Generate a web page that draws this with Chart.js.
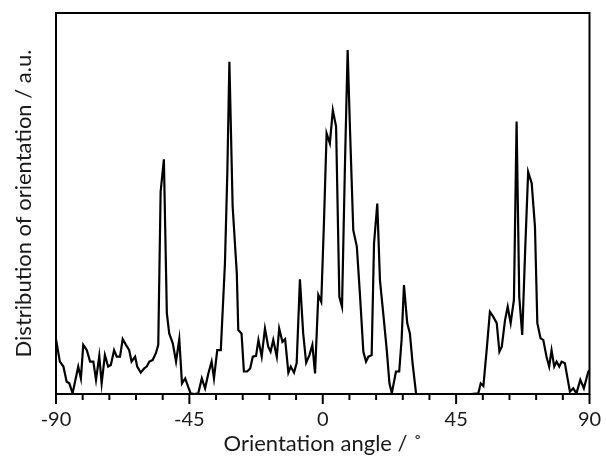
<!DOCTYPE html>
<html>
<head>
<meta charset="utf-8">
<script src="https://cdn.jsdelivr.net/npm/chart.js@4.4.1/dist/chart.umd.min.js"></script>
<style>
  html, body { margin: 0; padding: 0; background: #ffffff; }
  #wrap { width: 606px; height: 459px; }
</style>
</head>
<body>
<div id="wrap"><canvas id="chart" width="606" height="459"></canvas></div>
<script>
// Orientation angle (degrees) of each sample
const angles = [
  -90, -88.7, -87.5, -86.4, -85.5, -84.4, -82.5, -81.6, -80.8, -79.6,
  -78.5, -77.4, -76.5, -75.4, -74.6, -73.5, -72.4, -71.5, -70.4, -69.5,
  -68.4, -67.5, -66.4, -65.3, -64.5, -63.3, -62.6, -61.4, -60.3, -59.4,
  -58.5, -57.4, -56.3, -55.5, -54.7, -53.6, -52.6, -51.8, -50.6, -49.5,
  -48.4, -47.5, -46.4, -45.4, -44.6, -43.3, -42.0, -40.8, -39.7, -38.6,
  -37.5, -36.7, -35.6, -34.4, -33.0, -32.2, -31.5, -30.4, -29.0, -28.5,
  -27.4, -26.6, -25.5, -24.5, -23.6, -22.5, -21.7, -20.6, -19.5, -18.4,
  -17.6, -16.7, -15.5, -14.7, -13.6, -12.7, -11.6, -10.8, -9.7, -8.8,
  -7.7, -6.6, -5.6, -4.5, -3.5, -2.6, -1.5, -0.5, 0.4, 1.3,
  2.4, 3.4, 4.5, 5.6, 6.5, 7.5, 8.4, 9.2, 10.3, 11.5,
  12.6, 13.7, 14.6, 15.4, 16.5, 17.3, 18.4, 19.3, 20.4, 21.6,
  22.5, 23.3, 24.7, 25.8, 26.6, 27.4, 28.5, 29.4, 30.3, 31.5,
  35, 40, 45, 50, 52.5, 53.3, 54.2, 55.3, 56.4, 57.5,
  58.7, 59.6, 60.4, 61.5, 62.4, 63.4, 64.5, 65.4, 66.3, 67.3,
  68.3, 69.3, 70.5, 71.6, 72.4, 73.5, 74.4, 75.5, 76.4, 77.2,
  78.1, 78.9, 79.8, 80.6, 81.7, 82.5, 83.4, 84.5, 85.6, 86.9,
  88.1, 89.6, 90
];

// Distribution of orientation (arbitrary units)
const distribution = [
  14.4, 8.5, 7.2, 3.2, 2.8, 0.2, 7.2, 4.1, 12.9, 11.5,
  8.5, 8.5, 3.7, 10.0, 2.8, 10.2, 7.2, 7.6, 11.5, 9.8,
  9.8, 14.4, 12.9, 11.5, 8.5, 9.8, 7.2, 5.6, 6.7, 7.2,
  8.5, 8.9, 10.7, 12.9, 53.1, 61.6, 21.2, 15.9, 13.3, 8.5,
  14.4, 2.8, 4.1, 1.9, 0.2, 0.0, 0.2, 4.1, 1.5, 5.4,
  8.5, 4.1, 11.5, 11.5, 34.3, 57.9, 87.2, 49.2, 31.7, 16.8,
  15.9, 5.9, 5.9, 6.7, 9.8, 10.0, 14.2, 9.8, 17.2, 12.4,
  11.1, 14.2, 9.8, 17.2, 13.7, 14.4, 5.6, 7.2, 5.6, 8.1,
  30.1, 15.9, 8.2, 10.2, 12.9, 5.4, 26.0, 24.2, 44.8, 68.4,
  65.8, 74.5, 70.2, 25.5, 22.9, 60.5, 90.3, 69.3, 43.0, 38.7,
  25.5, 11.1, 8.5, 9.8, 10.2, 39.5, 50.0, 29.9, 21.2, 11.5,
  2.8, 0.2, 5.9, 5.9, 14.2, 28.6, 18.6, 15.9, 8.1, 0.0,
  0.0, 0.0, 0.0, 0.0, 0.2, 2.8, 2.1, 11.5, 21.6, 20.3,
  18.6, 11.1, 12.4, 19.4, 22.9, 18.6, 24.7, 71.5, 25.5, 15.5,
  37.8, 58.3, 55.3, 43.9, 18.6, 14.6, 14.2, 9.8, 7.2, 11.5,
  7.2, 8.5, 7.2, 8.5, 8.1, 4.5, 0.6, 1.5, 0.2, 3.7,
  1.5, 5.9, 6.2
];

// Axis settings
const xMin = -90, xMax = 90, tickStep = 9, labelStep = 45;
const xTitle = 'Orientation angle / \u02DA';
const yTitle = 'Distribution of orientation / a.u.';

const points = angles.map((a, i) => ({ x: a, y: distribution[i] }));

const FONT = 'Lato, "Open Sans", sans-serif';

// Frame around the plot and the bottom tick marks (long at labelled angles)
const framePlugin = {
  id: 'frameAndTicks',
  afterDraw(chart) {
    const { ctx, chartArea, scales } = chart;
    const { left, right, top, bottom } = chartArea;
    ctx.save();
    ctx.strokeStyle = '#000';
    ctx.lineWidth = 2;
    ctx.strokeRect(left, top, right - left, bottom - top);
    scales.x.ticks.forEach(t => {
      const px = scales.x.getPixelForValue(t.value);
      const len = (Math.abs(t.value) % labelStep === 0) ? 10 : 6;
      ctx.beginPath();
      ctx.moveTo(px, bottom);
      ctx.lineTo(px, bottom + len);
      ctx.stroke();
    });
    ctx.restore();
  }
};

new Chart(document.getElementById('chart'), {
  type: 'line',
  data: {
    datasets: [{
      data: points,
      borderColor: '#000',
      borderWidth: 2.2,
      pointRadius: 0,
      tension: 0,
      fill: false
    }]
  },
  options: {
    responsive: false,
    animation: false,
    events: [],
    layout: { padding: { top: 13, right: 16.5, left: 0, bottom: 0 } },
    plugins: { legend: { display: false }, tooltip: { enabled: false } },
    scales: {
      x: {
        type: 'linear',
        min: xMin,
        max: xMax,
        grid: { display: false, drawTicks: false, tickLength: 0 },
        border: { display: false },
        ticks: {
          stepSize: tickStep,
          autoSkip: false,
          maxRotation: 0,
          padding: 14,
          color: '#1a1a1a',
          font: { family: FONT, size: 20 },
          callback: v => (Math.abs(v) % labelStep === 0 ? String(v) : '')
        },
        title: {
          display: true,
          text: xTitle,
          color: '#1a1a1a',
          font: { family: FONT, size: 22 },
          padding: { top: 0, bottom: 2 }
        },
        afterFit(scale) {
          scale.height = 65;
          scale.paddingLeft = 0;
          scale.paddingRight = 0;
        }
      },
      y: {
        min: 0,
        max: 100,
        grid: { display: false, drawTicks: false },
        border: { display: false },
        ticks: { display: false },
        title: {
          display: true,
          text: yTitle,
          color: '#1a1a1a',
          font: { family: FONT, size: 22 },
          padding: { top: 11, bottom: 0 }
        },
        afterFit(scale) { scale.width = 56; }
      }
    }
  },
  plugins: [framePlugin]
});
</script>
</body>
</html>
